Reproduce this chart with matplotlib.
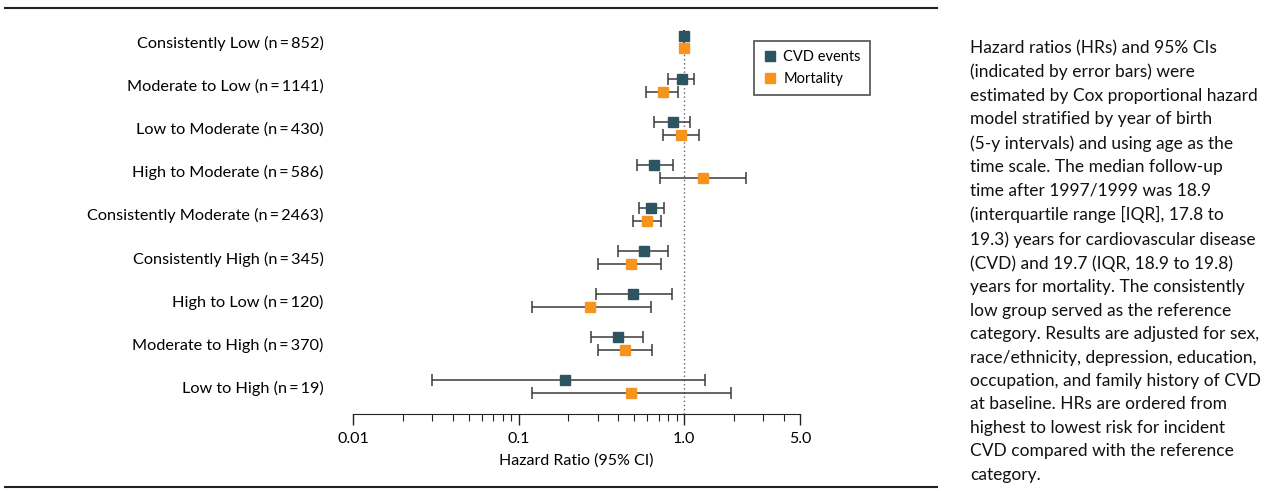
import numpy as np
import matplotlib.pyplot as plt
from matplotlib.lines import Line2D
from matplotlib.ticker import FixedLocator, NullFormatter

plt.rcParams['font.family'] = ['Lato', 'DejaVu Sans']

groups = ['Consistently Low (n\u2009=\u2009852)', 'Moderate to Low (n\u2009=\u20091141)',
          'Low to Moderate (n\u2009=\u2009430)', 'High to Moderate (n\u2009=\u2009586)',
          'Consistently Moderate (n\u2009=\u20092463)', 'Consistently High (n\u2009=\u2009345)',
          'High to Low (n\u2009=\u2009120)', 'Moderate to High (n\u2009=\u2009370)',
          'Low to High (n\u2009=\u200919)']

# hazard ratios with 95% CI
cvd_hr = [1.0, 0.97, 0.85, 0.66, 0.63, 0.57, 0.49, 0.40, 0.19]
cvd_lo = [1.0, 0.80, 0.66, 0.515, 0.535, 0.40, 0.295, 0.275, 0.030]
cvd_hi = [1.0, 1.15, 1.09, 0.85, 0.75, 0.80, 0.84, 0.565, 1.34]

mort_hr = [1.0, 0.74, 0.95, 1.30, 0.60, 0.48, 0.27, 0.44, 0.48]
mort_lo = [1.0, 0.59, 0.74, 0.71, 0.49, 0.30, 0.12, 0.30, 0.12]
mort_hi = [1.0, 0.915, 1.23, 2.37, 0.72, 0.72, 0.63, 0.64, 1.92]

note = ("Hazard ratios (HRs) and 95% CIs\n(indicated by error bars) were\n"
        "estimated by Cox proportional hazard\nmodel stratified by year of birth\n"
        "(5-y intervals) and using age as the\ntime scale. The median follow-up\n"
        "time after 1997/1999 was 18.9\n(interquartile range [IQR], 17.8 to\n"
        "19.3) years for cardiovascular disease\n(CVD) and 19.7 (IQR, 18.9 to 19.8)\n"
        "years for mortality. The consistently\nlow group served as the reference\n"
        "category. Results are adjusted for sex,\nrace/ethnicity, depression, education,\n"
        "occupation, and family history of CVD\nat baseline. HRs are ordered from\n"
        "highest to lowest risk for incident\nCVD compared with the reference\ncategory.")

cvd_col = '#2c5461'
mort_col = '#f7941d'
W, H = 1265, 491

fig = plt.figure(figsize=(W / 100, H / 100), dpi=100)
ax = fig.add_axes([353 / W, (H - 414) / H, (800 - 353) / W, (414 - 20) / H])

y = np.arange(len(groups))
off = 0.15

def draw(hr, lo, hi, yy, col):
    hr, lo, hi = map(np.array, (hr, lo, hi))
    err = np.vstack([hr - lo, hi - hr])
    ax.errorbar(hr, yy, xerr=err, fmt='none', ecolor='#3a3a3a', elinewidth=1.1,
                capsize=4.5, capthick=1.1, zorder=2)
    ax.plot(hr, yy, 's', color=col, markersize=7.5, zorder=3, linestyle='none')

draw(cvd_hr, cvd_lo, cvd_hi, y - off, cvd_col)
draw(mort_hr, mort_lo, mort_hi, y + off, mort_col)

ax.axvline(1.0, ymin=0, ymax=0.97, color='#666666', linestyle=(0, (1, 2)), linewidth=1, zorder=1)

ax.set_xscale('log')
ax.set_xlim(0.01, 5)
ax.set_ylim(8.63, -0.51)
ax.xaxis.set_major_locator(FixedLocator([0.01, 0.1, 1.0, 5.0]))
ax.set_xticklabels(['0.01', '0.1', '1.0', '5.0'])
minors = [m * d for d in (0.01, 0.1) for m in range(2, 10)] + [2, 3, 4]
ax.xaxis.set_minor_locator(FixedLocator(minors))
ax.xaxis.set_minor_formatter(NullFormatter())
ax.tick_params(axis='x', which='major', length=8, width=1, color='#222222', labelsize=11.5, pad=5)
ax.tick_params(axis='x', which='minor', length=5, width=0.8, color='#222222')
ax.set_xlabel('Hazard Ratio (95% CI)', fontsize=11.5, labelpad=5)

ax.set_yticks(y)
ax.set_yticklabels(groups, fontsize=11.7)
ax.tick_params(axis='y', length=0, pad=21)
for s in ['top', 'right', 'left']:
    ax.spines[s].set_visible(False)
ax.spines['bottom'].set_color('#222222')

handles = [Line2D([], [], marker='s', color=cvd_col, linestyle='none', markersize=7.5),
           Line2D([], [], marker='s', color=mort_col, linestyle='none', markersize=7.5)]
leg = ax.legend(handles, ['CVD events', 'Mortality'], loc='upper left',
                bbox_to_anchor=((747 - 353) / (800 - 353), 1 - 14 / 394), fontsize=10.5,
                frameon=True, fancybox=False, edgecolor='#222222', handletextpad=0.4,
                borderpad=0.6, labelspacing=0.55, handlelength=1.0)
leg.get_frame().set_linewidth(1.2)

# rules above and below
fig.add_artist(Line2D([5 / W, 937 / W], [1 - 8 / H] * 2, color='#222222', linewidth=1.5))
fig.add_artist(Line2D([5 / W, 937 / W], [1 - 487 / H] * 2, color='#222222', linewidth=1.5))

fig.text(970 / W, 1 - 40 / H, note, fontsize=12.5, va='top', ha='left',
         linespacing=1.57, color='#111111')

fig.savefig('out.png', dpi=100)
